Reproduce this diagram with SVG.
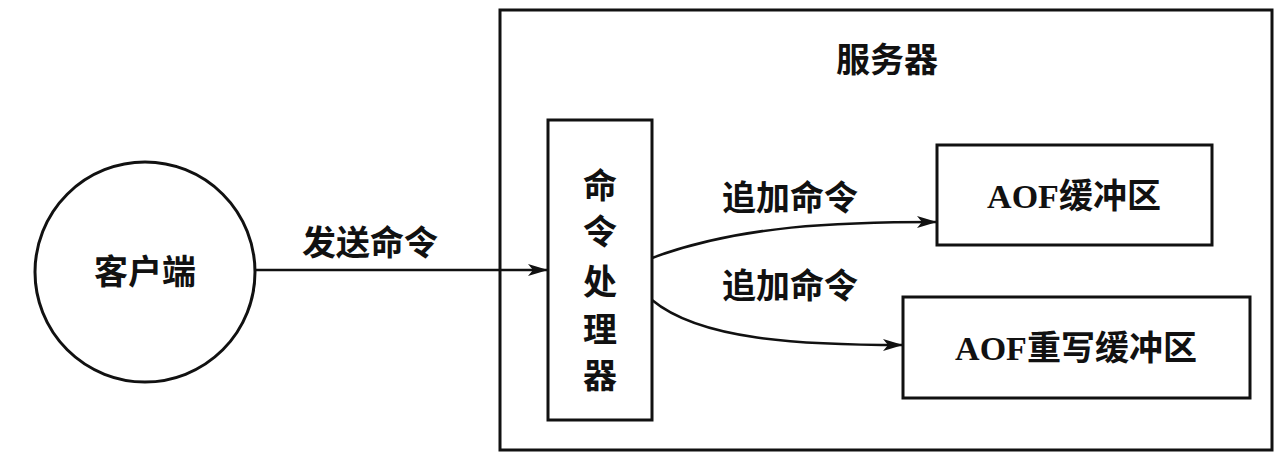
<svg xmlns="http://www.w3.org/2000/svg" width="1280" height="460" viewBox="0 0 1280 460">
<style>
.b{fill:#fff;stroke:#111;stroke-width:3}
.t{font-family:"Liberation Serif","Noto Sans CJK SC",serif;font-size:34px;font-weight:bold;fill:#111;text-anchor:middle}
.c{fill:none;stroke:#111;stroke-width:2.5}
</style>
<defs><marker id="a" viewBox="0 0 10 10" refX="10" refY="5" markerWidth="8" markerHeight="8" markerUnits="userSpaceOnUse" orient="auto"><path d="M0,0L10,5L0,10z" fill="#111"/></marker>
<marker id="m" viewBox="0 0 20 12" refX="20" refY="6" markerWidth="20" markerHeight="12" markerUnits="userSpaceOnUse" orient="auto"><path d="M0,0L20,6L0,12L5,6z" fill="#111"/></marker></defs>
<rect fill="#fff" width="1280" height="460"/>
<g id="server"><rect class="b" x="500" y="10" width="772" height="440"/><text class="t" x="887" y="72">服务器</text></g>
<g id="client"><circle class="b" cx="145" cy="272" r="110"/><text class="t" x="145" y="284">客户端</text></g>
<g id="processor"><rect class="b" x="548" y="120" width="104" height="300"/>
<text class="t" x="600" y="198">命</text><text class="t" x="600" y="244">令</text><text class="t" x="600" y="294">处</text><text class="t" x="600" y="342">理</text><text class="t" x="600" y="388">器</text></g>
<g id="aofbuf"><rect class="b" x="937" y="145" width="275" height="100"/><text class="t" x="1074" y="208">AOF缓冲区</text></g>
<g id="aofrw"><rect class="b" x="903" y="297" width="347" height="101"/><text class="t" x="1076" y="360">AOF重写缓冲区</text></g>
<g id="connectors">
<path class="c" d="M255,270H548" marker-end="url(#m)"/>
<text class="t" x="370" y="255">发送命令</text>
<path class="c" d="M652,258C740,225 840,222 937,222" marker-end="url(#m)"/>
<text class="t" x="790" y="210">追加命令</text>
<path class="c" d="M652,300C700,340 800,345 903,345" marker-end="url(#m)"/>
<text class="t" x="790" y="298">追加命令</text>
</g>
</svg>
